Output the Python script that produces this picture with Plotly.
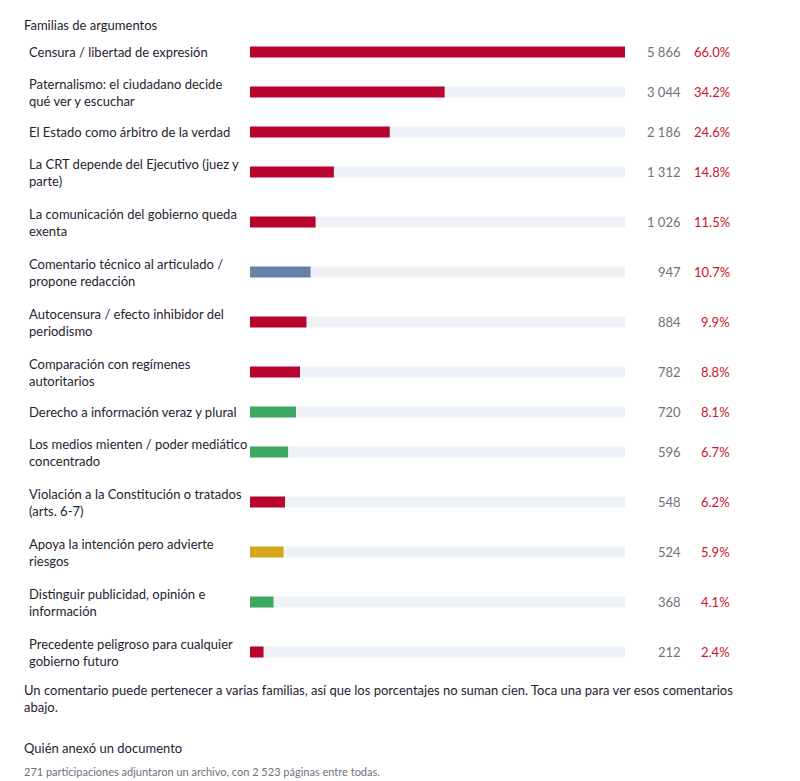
import plotly.graph_objects as go

labels = ["Censura / libertad de expresión",
          "Paternalismo: el ciudadano decide<br>qué ver y escuchar",
          "El Estado como árbitro de la verdad",
          "La CRT depende del Ejecutivo (juez y<br>parte)",
          "La comunicación del gobierno queda<br>exenta",
          "Comentario técnico al articulado /<br>propone redacción",
          "Autocensura / efecto inhibidor del<br>periodismo",
          "Comparación con regímenes<br>autoritarios",
          "Derecho a información veraz y plural",
          "Los medios mienten / poder mediático<br>concentrado",
          "Violación a la Constitución o tratados<br>(arts. 6-7)",
          "Apoya la intención pero advierte<br>riesgos",
          "Distinguir publicidad, opinión e<br>información",
          "Precedente peligroso para cualquier<br>gobierno futuro"]
counts = [5866, 3044, 2186, 1312, 1026, 947, 884, 782, 720, 596, 548, 524, 368, 212]
count_labels = ["5 866", "3 044", "2 186", "1 312", "1 026", "947", "884", "782", "720", "596", "548", "524", "368", "212"]
pcts = ["66.0%", "34.2%", "24.6%", "14.8%", "11.5%", "10.7%", "9.9%", "8.8%", "8.1%", "6.7%", "6.2%", "5.9%", "4.1%", "2.4%"]
kinds = ["r", "r", "r", "r", "r", "b", "r", "r", "g", "g", "r", "y", "g", "r"]

cmap = {"r": "#b80530", "b": "#6781ab", "g": "#3fa860", "y": "#d6a51c"}
font = "Lato, 'Open Sans', sans-serif"
OFF = 8  # page body margin
W, H = 800 - OFF, 781 - OFF

def px(x):
    return (x - OFF) / W

ys = []
y = 52
prev = None
for lab in labels:
    h = 25 if "<br>" in lab else 15
    if prev is not None:
        y += prev + h
    ys.append(y)
    prev = h

fig = go.Figure()
maxv = max(counts)
fig.add_trace(go.Bar(x=[maxv]*len(counts), y=ys, orientation="h", width=11,
                     marker=dict(color="#eef1f6", line_width=0), hoverinfo="skip"))
fig.add_trace(go.Bar(x=counts, y=ys, orientation="h", width=11,
                     marker=dict(color=[cmap[k] for k in kinds], line_width=0)))

lbl = dict(size=13, color="#1f2330", family=font)
ann = []
for lab, yy, c, p in zip(labels, ys, count_labels, pcts):
    ann.append(dict(x=px(27), y=yy, xref="paper", yref="y", text=lab, showarrow=False,
                    xanchor="left", yanchor="middle", align="left", font=lbl))
    ann.append(dict(x=px(683), y=yy, xref="paper", yref="y", text=c, showarrow=False,
                    xanchor="right", yanchor="middle", font=dict(size=13, color="#6b7280", family=font)))
    ann.append(dict(x=px(732), y=yy, xref="paper", yref="y", text=p, showarrow=False,
                    xanchor="right", yanchor="middle", font=dict(size=13, color="#d0112b", family=font)))

ann.append(dict(x=px(22), y=25, xref="paper", yref="y", text="Familias de argumentos", showarrow=False,
                xanchor="left", yanchor="middle", font=lbl))
ann.append(dict(x=px(22), y=698, xref="paper", yref="y",
                text="Un comentario puede pertenecer a varias familias, así que los porcentajes no suman cien. Toca una para ver esos comentarios<br>abajo.",
                showarrow=False, xanchor="left", yanchor="middle", align="left", font=lbl))
ann.append(dict(x=px(22), y=748, xref="paper", yref="y", text="Quién anexó un documento", showarrow=False,
                xanchor="left", yanchor="middle", font=lbl))
ann.append(dict(x=px(22), y=771, xref="paper", yref="y",
                text="271 participaciones adjuntaron un archivo, con 2 523 páginas entre todas.", showarrow=False,
                xanchor="left", yanchor="middle", font=dict(size=11, color="#6b7280", family=font)))

fig.update_layout(width=W, height=H, margin=dict(l=0, r=0, t=0, b=0),
                  paper_bgcolor="white", plot_bgcolor="white", showlegend=False,
                  barmode="overlay", annotations=ann,
                  xaxis=dict(domain=[px(250), px(625)], range=[0, maxv], visible=False, fixedrange=True),
                  yaxis=dict(range=[781, OFF], visible=False, fixedrange=True))
fig.write_html("out.html", config={"displayModeBar": False})
